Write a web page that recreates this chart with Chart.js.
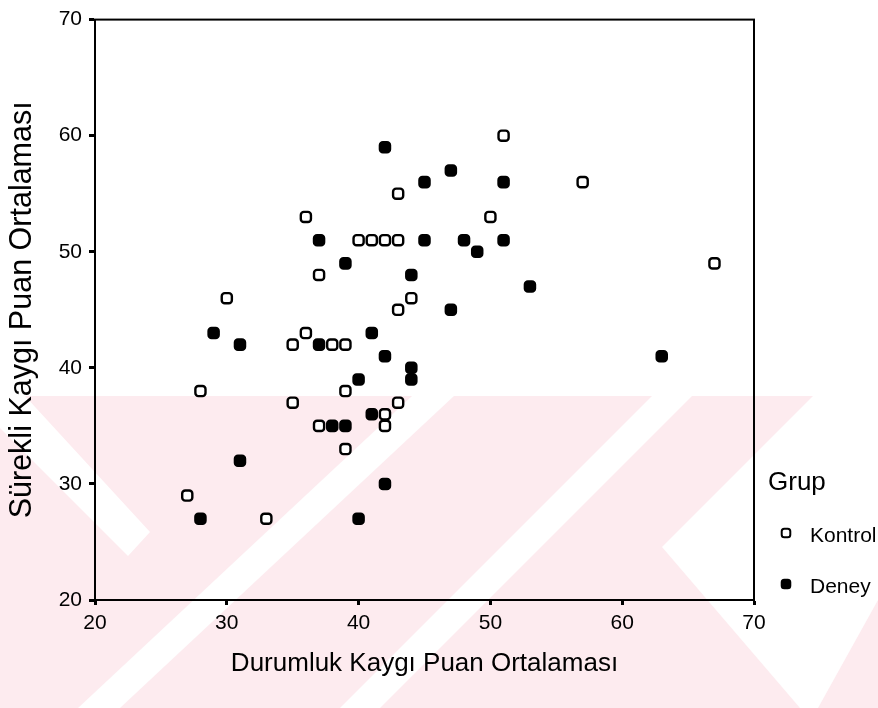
<!DOCTYPE html>
<html><head><meta charset="utf-8">
<script src="https://cdn.jsdelivr.net/npm/chart.js@4"></script>
<style>html,body{margin:0;padding:0;background:#fff}#wrap{width:878px;height:708px;position:relative}</style>
</head><body><div id="wrap"><canvas id="c"></canvas></div>
<script>
// ---- data ----
const kontrolX = [27,28,30,33,35,35,36,36,37,37,38,39,39,39,40,41,42,43,43,43,43,42,42,44,50,51,57,67];
const kontrolY = [29,38,46,27,42,37,53,43,48,35,42,42,38,33,51,51,51,51,55,45,37,36,35,46,53,60,56,49];
const deneyX = [28,29,31,31,37,37,38,39,39,40,40,41,41,42,42,42,44,44,44,45,45,47,47,48,49,51,51,53,63];
const deneyY = [27,43,42,32,51,42,35,35,49,39,27,43,36,59,41,30,48,40,39,56,51,57,45,51,50,56,51,47,41];
const xTicks = [20,30,40,50,60,70];
const yTicks = [20,30,40,50,60,70];
const seriesNames = ['Kontrol','Deney'];
const legendTitle = 'Grup';
const xTitle = 'Durumluk Kaygı Puan Ortalaması';
const yTitle = 'Sürekli Kaygı Puan Ortalaması';

const FONT = "'Liberation Sans', Arial, Helvetica, sans-serif";
const toPts = (xs, ys) => xs.map((x, i) => ({x: x, y: ys[i]}));

// pale watermark behind the chart
const watermark = {
  id: 'watermark',
  beforeDraw(chart) {
    const ctx = chart.ctx;
    ctx.save();
    ctx.fillStyle = 'rgb(253,235,239)';
    ctx.fillRect(0, 396, 878, 312);
    ctx.fillStyle = '#ffffff';
    const polys = [
      [[412,396],[454,396],[120,708],[78,708]],
      [[652,396],[692,396],[380,708],[340,708]],
      [[813,396],[878,396],[878,600],[818,708],[800,708],[662,547]],
      [[-20,396],[25,396],[150,532],[128,556],[-20,408]]
    ];
    polys.forEach(p => {
      ctx.beginPath();
      ctx.moveTo(p[0][0], p[0][1]);
      for (let i = 1; i < p.length; i++) ctx.lineTo(p[i][0], p[i][1]);
      ctx.closePath();
      ctx.fill();
    });
    ctx.restore();
  }
};

// box around plot area
const frame = {
  id: 'frame',
  afterDraw(chart) {
    const a = chart.chartArea, ctx = chart.ctx;
    ctx.save();
    ctx.strokeStyle = '#000';
    ctx.lineWidth = 2;
    ctx.strokeRect(a.left, a.top, a.right - a.left, a.bottom - a.top);
    ctx.restore();
  }
};

// legend drawn from the datasets
const sideLegend = {
  id: 'sideLegend',
  afterDraw(chart) {
    const ctx = chart.ctx;
    const a = chart.chartArea;
    const x0 = a.right + 14;
    ctx.save();
    ctx.fillStyle = '#000';
    ctx.textBaseline = 'middle';
    ctx.textAlign = 'left';
    ctx.font = '26px ' + FONT;
    ctx.fillText(legendTitle, x0, 483);
    ctx.font = '21px ' + FONT;
    chart.data.datasets.forEach((ds, i) => {
      const y = 536 + i * 51;
      ctx.fillStyle = ds.backgroundColor;
      ctx.strokeStyle = ds.borderColor;
      ctx.lineWidth = 2;
      Chart.helpers.drawPoint(ctx, {pointStyle: ds.pointStyle, radius: 5, rotation: 0, borderWidth: 2}, x0 + 18, y - 3);
      ctx.fillStyle = '#000';
      ctx.fillText(ds.label, x0 + 42, y);
    });
    ctx.restore();
  }
};

new Chart(document.getElementById('c'), {
  type: 'scatter',
  data: {
    datasets: [
      {label: seriesNames[0], data: toPts(kontrolX, kontrolY), pointStyle: 'rectRounded',
       pointRadius: 5.9, pointHoverRadius: 5.9, backgroundColor: '#ffffff', borderColor: '#000000', borderWidth: 2.4},
      {label: seriesNames[1], data: toPts(deneyX, deneyY), pointStyle: 'rectRounded',
       pointRadius: 5.9, pointHoverRadius: 5.9, backgroundColor: '#000000', borderColor: '#000000', borderWidth: 2.4}
    ]
  },
  options: {
    responsive: true,
    maintainAspectRatio: false,
    animation: false,
    devicePixelRatio: 1,
    layout: {padding: {top: 16, right: 124, left: 0, bottom: 0}},
    plugins: {legend: {display: false}, tooltip: {enabled: false}},
    scales: {
      x: {
        type: 'linear', min: 20, max: 70,
        afterBuildTicks: s => { s.ticks = xTicks.map(v => ({value: v})); },
        afterFit: s => { s.height = 108; },
        ticks: {color: '#000', font: {size: 21, family: FONT}, padding: 6, maxRotation: 0},
        grid: {drawOnChartArea: false, drawTicks: true, tickLength: 5, tickWidth: 3, tickColor: '#000'},
        border: {display: true, color: '#000', width: 2},
        title: {display: true, text: xTitle, color: '#000', font: {size: 26, family: FONT}, padding: {top: 0, bottom: 29}}
      },
      y: {
        type: 'linear', min: 20, max: 70,
        afterBuildTicks: s => { s.ticks = yTicks.map(v => ({value: v})); },
        afterFit: s => { s.width = 95; },
        ticks: {color: '#000', font: {size: 21, family: FONT}, padding: 7},
        grid: {drawOnChartArea: false, drawTicks: true, tickLength: 6, tickWidth: 3, tickColor: '#000'},
        border: {display: true, color: '#000', width: 2},
        title: {display: true, text: yTitle, color: '#000', font: {size: 30.5, family: FONT}, padding: {top: 4, bottom: 0}}
      }
    }
  },
  plugins: [watermark, frame, sideLegend]
});
</script>
</body></html>
